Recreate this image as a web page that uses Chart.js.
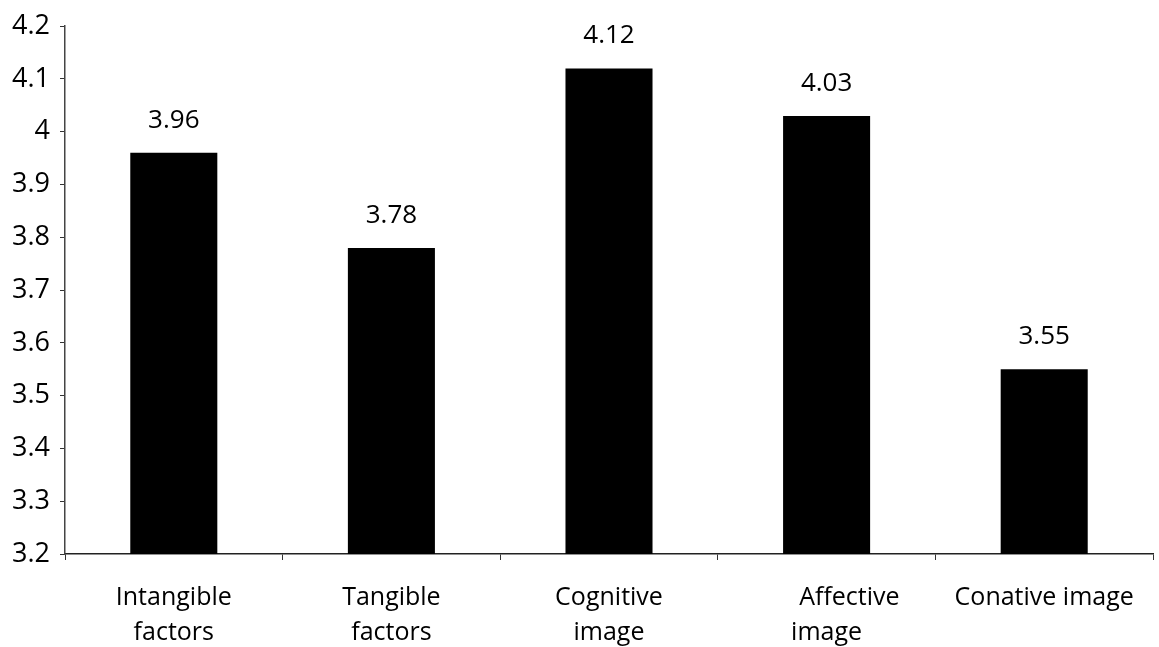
<!DOCTYPE html>
<html lang="en">
<head>
  <meta charset="UTF-8" />
  <title>Image factors</title>
  <style>
    html, body { margin: 0; padding: 0; background: #fff; }
    #wrap { position: relative; width: 1159px; height: 647px; }
  </style>
  <script src="https://cdn.jsdelivr.net/npm/chart.js"></script>
</head>
<body>
  <div id="wrap"><canvas id="barChart" width="1159" height="647"></canvas></div>

  <script>
    // ─── Data ─────────────────────────────────────────────
    const categories = [
      ['Intangible', 'factors'],
      ['Tangible', 'factors'],
      ['Cognitive', 'image'],
      ['       Affective', 'image'],
      'Conative image'
    ];
    const meanScores = [3.96, 3.78, 4.12, 4.03, 3.55];
    const yTicks = [3.2, 3.3, 3.4, 3.5, 3.6, 3.7, 3.8, 3.9, 4, 4.1, 4.2];

    const FONT = "'Open Sans', 'DejaVu Sans', sans-serif";

    // value labels drawn above each bar
    const valueLabels = {
      id: 'valueLabels',
      afterDatasetsDraw(chart) {
        const c = chart.ctx;
        const meta = chart.getDatasetMeta(0);
        c.save();
        c.font = '26px ' + FONT;
        c.fillStyle = '#000';
        c.textAlign = 'center';
        c.textBaseline = 'alphabetic';
        meta.data.forEach((bar, i) => {
          c.fillText(String(meanScores[i]), bar.x, bar.y - 25);
        });
        c.restore();
      }
    };

    const ctx = document.getElementById('barChart').getContext('2d');
    new Chart(ctx, {
      type: 'bar',
      data: {
        labels: categories,
        datasets: [{
          data: meanScores,
          backgroundColor: '#000',
          borderWidth: 0,
          barPercentage: 0.4,
          categoryPercentage: 1.0
        }]
      },
      options: {
        responsive: false,
        animation: false,
        layout: { padding: { top: 24, right: 6, left: 0, bottom: 0 } },
        scales: {
          x: {
            grid: {
              offset: true,
              drawOnChartArea: false,
              drawTicks: true,
              tickLength: 6,
              color: '#333'
            },
            border: { color: '#222', width: 1.5 },
            ticks: {
              color: '#000',
              font: { family: FONT, size: 25, lineHeight: 1.4 },
              padding: 20,
              maxRotation: 0,
              autoSkip: false
            },
            afterFit(scale) { scale.height = 93; }
          },
          y: {
            min: 3.2,
            max: 4.2,
            afterBuildTicks(scale) {
              scale.ticks = yTicks.map(v => ({ value: v }));
            },
            grid: {
              drawOnChartArea: false,
              drawTicks: true,
              tickLength: 5,
              color: '#333'
            },
            border: { color: '#444', width: 1.5 },
            ticks: {
              color: '#000',
              font: { family: FONT, size: 27 },
              padding: 10,
              callback: v => String(Math.round(v * 10) / 10)
            },
            afterFit(scale) { scale.width = 65; }
          }
        },
        plugins: {
          legend: { display: false },
          tooltip: { enabled: false }
        }
      },
      plugins: [valueLabels]
    });
  </script>
</body>
</html>
